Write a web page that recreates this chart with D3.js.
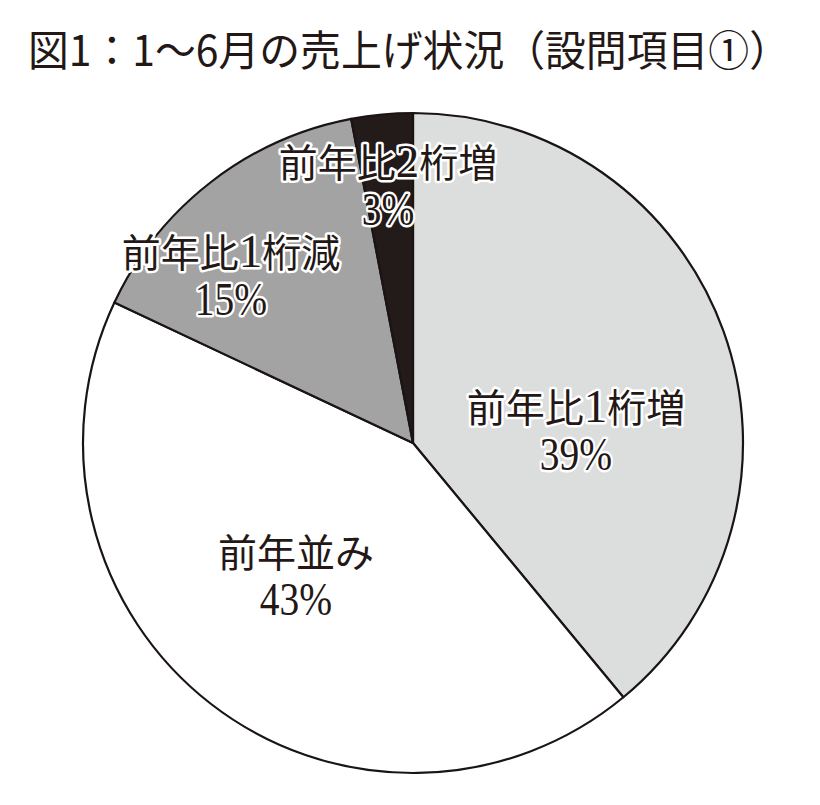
<!DOCTYPE html>
<html><head><meta charset="utf-8">
<script src="https://cdn.jsdelivr.net/npm/d3@7"></script>
<style>html,body{margin:0;padding:0;background:#fff;}</style>
</head><body>
<svg id="chart" width="820" height="805"></svg>
<script>
const titleText = "図1：1～6月の売上げ状況（設問項目①）";
const categories = ["前年比1桁増", "前年並み", "前年比1桁減", "前年比2桁増"];
const values = [39, 43, 15, 3];
const colors = ["#dcdddd", "#ffffff", "#a3a3a3", "#231a1a"];
// label anchor offsets from pie centre (layout only)
const labelOffsets = [[163, -21], [-117, 124], [-182, -176], [-25, -266]];

const W = 820, H = 805, cx = 413, cy = 443, R = 330;
const ink = "#231815";
const svg = d3.select("#chart");

svg.append("text")
  .attr("x", 28).attr("y", 66)
  .attr("textLength", 762).attr("lengthAdjust", "spacingAndGlyphs")
  .attr("font-family", "'Noto Sans CJK JP', sans-serif")
  .attr("font-weight", 400).attr("font-size", 42)
  .attr("fill", ink)
  .text(titleText);

const pie = d3.pie().sort(null).value(d => d.v);
const arc = d3.arc().innerRadius(0).outerRadius(R);
const data = categories.map((c, i) => ({c, v: values[i], col: colors[i], off: labelOffsets[i]}));
const arcs = pie(data);

const g = svg.append("g").attr("transform", `translate(${cx},${cy})`);
g.selectAll("path").data(arcs).join("path")
  .attr("d", arc)
  .attr("fill", d => d.data.col)
  .attr("stroke", "#1a1414").attr("stroke-width", 2.2)
  .attr("stroke-linejoin", "round");

const labels = g.selectAll("g.lbl").data(arcs).join("g")
  .attr("class", "lbl")
  .attr("transform", d => `translate(${d.data.off[0]},${d.data.off[1]})`);

const t1 = labels.append("text")
  .attr("text-anchor", "middle")
  .attr("y", 0)
  .attr("font-family", "'Noto Sans CJK JP', serif")
  .attr("font-size", 39)
  .attr("fill", ink)
  .attr("stroke", "#fff").attr("stroke-width", 5).attr("stroke-linejoin", "round")
  .attr("paint-order", "stroke");
t1.each(function(d) {
  const el = d3.select(this);
  d.data.c.split(/(\d+)/).filter(s => s.length).forEach(s => {
    const sp = el.append("tspan").text(s);
    if (/\d/.test(s)) sp.attr("font-family", "'Liberation Serif', serif").attr("font-size", 47);
  });
});

labels.append("text")
  .attr("text-anchor", "middle")
  .attr("transform", "translate(0,48) scale(0.84,1)")
  .attr("font-family", "'Liberation Serif', serif")
  .attr("font-size", 47)
  .attr("fill", ink)
  .attr("stroke", "#fff").attr("stroke-width", 5).attr("stroke-linejoin", "round")
  .attr("paint-order", "stroke")
  .text(d => d.data.v + "%");
</script>
</body></html>
